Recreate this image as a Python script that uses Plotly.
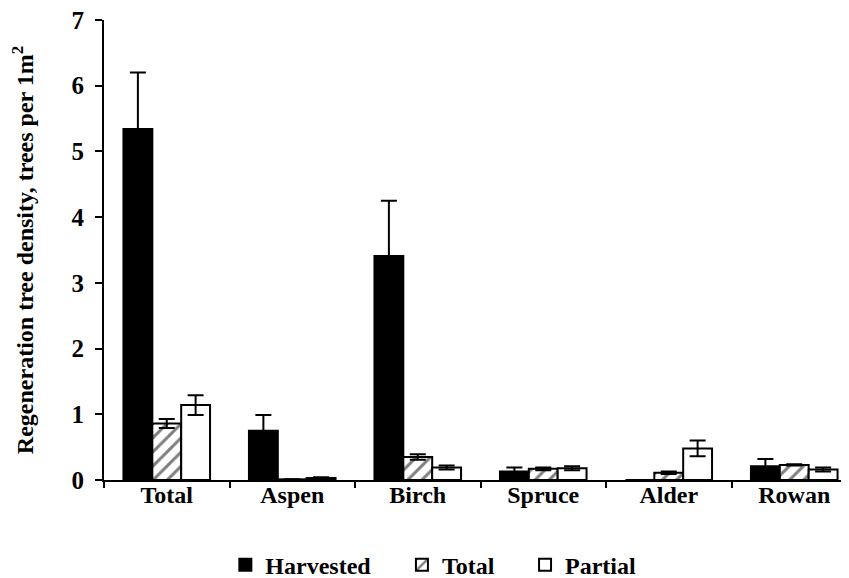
import plotly.graph_objects as go

categories = ["Total", "Aspen", "Birch", "Spruce", "Alder", "Rowan"]
harvested = [5.34, 0.75, 3.41, 0.13, 0.0, 0.21]
harvested_err = [0.86, 0.24, 0.84, 0.06, 0.0, 0.11]
total = [0.86, 0.01, 0.35, 0.17, 0.11, 0.23]
total_err = [0.07, 0.0, 0.04, 0.02, 0.02, 0.01]
partial = [1.14, 0.03, 0.19, 0.18, 0.48, 0.16]
partial_err = [0.15, 0.01, 0.03, 0.03, 0.12, 0.03]
y_ticks = [0, 1, 2, 3, 4, 5, 6, 7]

FONT = "Liberation Serif"

def err(vals):
    return dict(type="data", array=vals, visible=True, color="black", thickness=2, width=8)

fig = go.Figure()
fig.add_trace(go.Bar(
    name="Harvested", x=categories, y=harvested, error_y=err(harvested_err),
    marker=dict(color="black", line=dict(color="black", width=2)), legend="legend",
))
fig.add_trace(go.Bar(
    name="Total", x=categories, y=total, error_y=err(total_err),
    marker=dict(color="white", line=dict(color="black", width=2),
                pattern=dict(shape="/", fgcolor="black", bgcolor="white", size=10, solidity=0.3)),
    legend="legend2",
))
fig.add_trace(go.Bar(
    name="Partial", x=categories, y=partial, error_y=err(partial_err),
    marker=dict(color="white", line=dict(color="black", width=2)), legend="legend3",
))

def leg(x):
    return dict(orientation="h", xref="container", yref="container", x=x, xanchor="left",
                y=0.036, yanchor="middle", font=dict(family=FONT, size=24, weight="bold"),
                itemwidth=30)

fig.update_layout(
    width=849, height=578,
    margin=dict(l=96, r=0, t=12, b=106, autoexpand=False),
    paper_bgcolor="white", plot_bgcolor="white",
    barmode="group", bargap=0.31, bargroupgap=0,
    font=dict(family=FONT, color="black", size=23, weight="bold"),
    showlegend=True,
    legend=leg(0.256), legend2=leg(0.464), legend3=leg(0.609),
)
fig.update_xaxes(
    showline=True, linecolor="black", linewidth=2,
    ticks="outside", ticklen=6, tickwidth=2, tickcolor="black",
    tickson="boundaries", showgrid=False, automargin=False,
    ticklabelstandoff=-8, ticklabeloverflow="allow",
    tickfont=dict(family=FONT, size=24, weight="bold"),
)
fig.update_yaxes(
    range=[0, 7], tickvals=y_ticks, showline=True, linecolor="black", linewidth=2,
    ticks="outside", ticklen=7, tickwidth=2, tickcolor="black", showgrid=False,
    zeroline=False, ticklabelstandoff=6, automargin=False, ticklabeloverflow="allow",
    tickfont=dict(family=FONT, size=25, weight="bold"),
    title=dict(text="Regeneration tree density, trees per 1m<sup>2</sup>",
               font=dict(family=FONT, size=24, weight="bold"), standoff=40),
)

fig.write_html("out.html")
